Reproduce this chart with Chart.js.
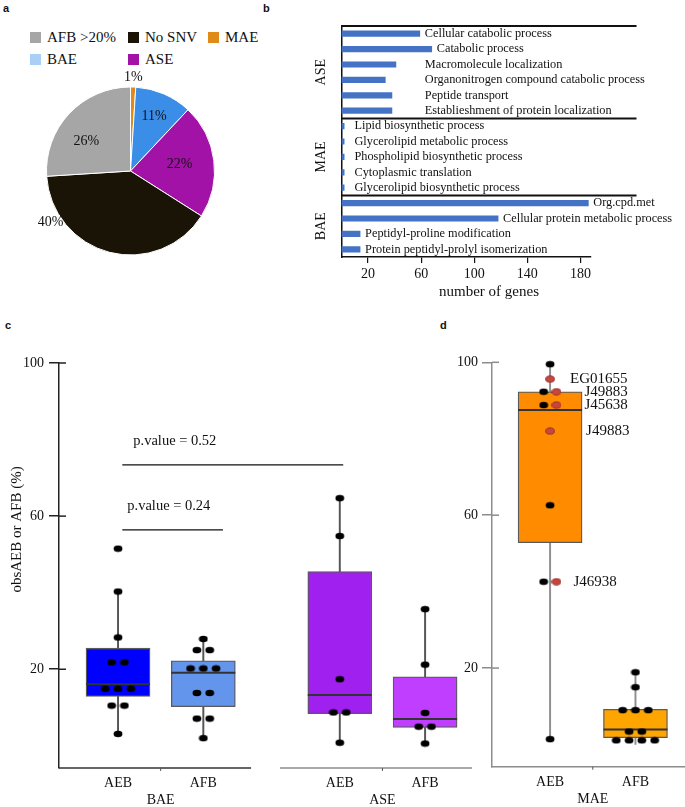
<!DOCTYPE html>
<html>
<head>
<meta charset="utf-8">
<script src="https://cdn.jsdelivr.net/npm/chart.js@4.4.1/dist/chart.umd.min.js"></script>
<style>
  body { margin: 0; width: 685px; height: 807px; position: relative; overflow: hidden; background: #fff;
         font-family: 'Liberation Serif', 'Times New Roman', serif; color: #111; }
  canvas, .tag, .legend { position: absolute; }
  .tag { font: bold 11px 'Liberation Sans', Arial, sans-serif; }
  .legend { left: 30px; top: 30px; display: grid; grid-template-columns: 98px 80px auto; row-gap: 7px;
            font-size: 15px; line-height: 15px; }
  .legend span { display: flex; align-items: center; white-space: nowrap; }
  .legend i { width: 11px; height: 11px; margin-right: 6px; display: inline-block; }
</style>
</head>
<body>
<div class="tag" style="left:3px;top:2px">a</div>
<div class="tag" style="left:263px;top:2px">b</div>
<div class="tag" style="left:5px;top:319px">c</div>
<div class="tag" style="left:440px;top:319px">d</div>
<div class="legend" id="pieLegend"></div>
<canvas id="pieChart" width="262" height="300" style="left:0;top:0"></canvas>
<canvas id="goChart" width="423" height="310" style="left:262px;top:0"></canvas>
<canvas id="boxC" width="480" height="477" style="left:0;top:330px"></canvas>
<canvas id="boxD" width="240" height="477" style="left:445px;top:330px"></canvas>
<script>
// ---- a: pie ----
const pieLabels = ['MAE', 'BAE', 'ASE', 'No SNV', 'AFB >20%']
const pieValues = [1, 11, 22, 40, 26]
const pieColors = ['#e08a17', '#3a8ee8', '#a212a6', '#1a1406', '#a6a6a6']
const legendOrder = ['AFB >20%', 'No SNV', 'MAE', 'BAE', 'ASE']
const legendColors = ['#a6a6a6', '#1a1406', '#e08a17', '#a9cff6', '#a212a6']

// ---- b: GO terms ----
const goGroups = ['ASE', 'MAE', 'BAE']
const goGroupSizes = [6, 5, 4]
const goTerms = [
  'Cellular catabolic process', 'Catabolic process', 'Macromolecule localization',
  'Organonitrogen compound catabolic process', 'Peptide transport', 'Establieshment of protein localization',
  'Lipid biosynthetic process', 'Glycerolipid metabolic process', 'Phospholipid biosynthetic process',
  'Cytoplasmic translation', 'Glycerolipid biosynthetic process',
  'Org.cpd.met', 'Cellular protein metabolic process', 'Peptidyl-proline modification',
  'Protein peptidyl-prolyl isomerization'
]
const goCounts = [59, 68, 41, 33, 38, 38, 2, 2, 2, 2, 2, 186, 118, 14, 14]
const goTicks = [20, 60, 100, 140, 180]

// ---- c: BAE / ASE boxes ----
const cGroups = ['BAE', 'ASE']
const cBoxes = ['AEB', 'AFB', 'AEB', 'AFB']
// [lower whisker, Q1, median, Q3, upper whisker]
const cStats = [
  [3.1, 12.9, 16.1, 25.5, 40.3],
  [2.0, 10.2, 19.1, 22.2, 27.9],
  [0.8, 8.4, 13.3, 45.5, 64.7],
  [0.6, 4.8, 7.0, 18.0, 35.7]
]
const baeAeb = [51.5, 40.3, 28.3, 21.8, 21.8, 14.9, 14.9, 14.9, 10.5, 10.5, 3.1]
const baeAfb = [27.9, 25.0, 25.0, 20.2, 20.2, 20.2, 13.8, 13.8, 7.1, 7.1, 2.0]
const aseAeb = [64.7, 54.8, 17.4, 8.7, 8.7, 0.8]
const aseAfb = [35.7, 21.2, 8.6, 5.0, 5.0, 0.6]
const pTexts = ['p.value = 0.52', 'p.value = 0.24']
const pLevels = [73.4, 56.4]
const yTicks = [20, 60, 100]

// ---- d: MAE boxes ----
const dGroup = 'MAE'
const dBoxes = ['AEB', 'AFB']
const dStats = [
  [1.4, 52.8, 87.5, 92.3, 99.5],
  [0.0, 1.8, 3.9, 9.2, 18.9]
]
const maeAebBlack = [99.5, 92.3, 88.8, 62.6, 42.6, 1.4]
const maeAebRed = [95.6, 92.3, 88.8, 82.0, 42.6]
const redNames = ['EG01655', 'J49883', 'J45638', 'J49883', 'J46938']
const maeAfb = [18.9, 15.0, 9.0, 9.0, 9.0, 3.4, 3.4, 1.1, 1.1, 1.1, 1.1]

// layout bits (not data)
const cSlots = [1, 2, 3.6, 4.6]
const dSlots = [1, 2]
const dotStep = 0.15
const serif = "'Liberation Serif', 'Times New Roman', serif"

Chart.defaults.font.family = serif
Chart.defaults.color = '#111'
Chart.defaults.animation = false
Chart.defaults.plugins.legend.display = false
Chart.defaults.plugins.tooltip.enabled = false

function line(ctx, x0, y0, x1, y1){
  ctx.beginPath()
  ctx.moveTo(x0, y0)
  ctx.lineTo(x1, y1)
  ctx.stroke()
}

// ---------- a ----------
const legendBox = document.getElementById('pieLegend')
legendOrder.forEach((name, i) => {
  const item = document.createElement('span')
  item.innerHTML = '<i style="background:' + legendColors[i] + '"></i>' + name
  legendBox.append(item)
})

const pctRadius = [1.11, 0.71, 0.59, 1.13, 0.635]
const pctShift = [0, 0, 0, 43, -9]
const pieText = {
  id: 'pieText',
  afterDatasetsDraw(chart){
    const ctx = chart.ctx
    ctx.save()
    ctx.font = '14px ' + serif
    ctx.fillStyle = '#111'
    ctx.textAlign = 'center'
    ctx.textBaseline = 'middle'
    chart.getDatasetMeta(0).data.forEach((arc, i) => {
      const a = (arc.startAngle + arc.endAngle) / 2 + pctShift[i] * Math.PI / 180
      const r = arc.outerRadius * pctRadius[i]
      ctx.fillText(pieValues[i] + '%', arc.x + r * Math.cos(a), arc.y + r * Math.sin(a))
    })
    ctx.restore()
  }
}

new Chart('pieChart', {
  type: 'pie',
  data: {
    labels: pieLabels,
    datasets: [{ data: pieValues, backgroundColor: pieColors, borderColor: '#fff', borderWidth: 1 }]
  },
  options: {
    responsive: false,
    layout: { padding: { left: 46, right: 47, top: 86.5, bottom: 44.5 } }
  },
  plugins: [pieText]
})

// ---------- b ----------
const labelFloor = [59, 6, 0]
const goGroupOf = []
goGroupSizes.forEach((n, g) => { for (let k = 0; k < n; k++) goGroupOf.push(g) })

const goDecor = {
  id: 'goDecor',
  afterDraw(chart){
    const { ctx, chartArea: area, scales: { x, y } } = chart
    const lineEnd = area.left + 295
    ctx.save()
    ctx.strokeStyle = '#111'
    ctx.lineWidth = 2
    line(ctx, area.left, area.top, lineEnd, area.top)
    let start = 0
    goGroupSizes.forEach((n, g) => {
      const first = y.getPixelForValue(start)
      const last = y.getPixelForValue(start + n - 1)
      if (g > 0) {
        const sep = (first + y.getPixelForValue(start - 1)) / 2
        line(ctx, area.left, sep, lineEnd, sep)
      }
      ctx.save()
      ctx.translate(area.left - 20.5, (first + last) / 2)
      ctx.rotate(-Math.PI / 2)
      ctx.font = '14px ' + serif
      ctx.fillStyle = '#111'
      ctx.textAlign = 'center'
      ctx.textBaseline = 'middle'
      ctx.fillText(goGroups[g], 0, 0)
      ctx.restore()
      start += n
    })
    ctx.font = '12.3px ' + serif
    ctx.fillStyle = '#111'
    ctx.textBaseline = 'middle'
    ctx.textAlign = 'left'
    goTerms.forEach((t, i) => {
      const v = Math.max(goCounts[i], labelFloor[goGroupOf[i]])
      ctx.fillText(t, x.getPixelForValue(v) + 5, y.getPixelForValue(i))
    })
    ctx.font = '15px ' + serif
    ctx.textAlign = 'center'
    ctx.fillText('number of genes', (area.left + lineEnd) / 2, area.bottom + 35)
    ctx.restore()
  }
}

new Chart('goChart', {
  type: 'bar',
  data: {
    labels: goTerms,
    datasets: [{ data: goCounts, backgroundColor: '#4472c4', barThickness: 5.5 }]
  },
  options: {
    responsive: false,
    indexAxis: 'y',
    layout: { padding: { top: 26, right: 94 } },
    scales: {
      x: {
        min: 0, max: 188,
        afterBuildTicks: s => { s.ticks = goTicks.map(v => ({ value: v })) },
        grid: { display: true, drawOnChartArea: false, tickLength: 6, color: '#111', lineWidth: 1.2 },
        border: { color: '#111', width: 1.5 },
        ticks: { padding: 3, font: { size: 14 }, color: '#111' },
        afterFit: s => { s.height = 53 }
      },
      y: {
        grid: { display: false },
        ticks: { display: false },
        border: { color: '#111', width: 1.5 },
        afterFit: s => { s.width = 79.5 }
      }
    }
  },
  plugins: [goDecor]
})

// ---------- box plots (c, d) ----------
function makeDot(fill, stroke){
  const c = document.createElement('canvas')
  c.width = 10
  c.height = 8
  const g = c.getContext('2d')
  g.beginPath()
  g.ellipse(5, 4, 4.4, 3.2, 0, 0, Math.PI * 2)
  g.fillStyle = fill
  g.fill()
  if (stroke) {
    g.strokeStyle = stroke
    g.lineWidth = 0.8
    g.stroke()
  }
  return c
}
const blackDot = makeDot('#000')
const redDot = makeDot('#c8463e', '#8e2c25')

// equal values sit side by side, like a dot plot
function spread(lists, x){
  const out = lists.map(vals => vals.map(() => null))
  const byVal = {}
  lists.forEach((vals, g) => vals.forEach((v, i) => {
    if (!byVal[v]) byVal[v] = []
    byVal[v].push({ g, i, v })
  }))
  Object.values(byVal).forEach(list => list.forEach((p, k) => {
    out[p.g][p.i] = { x: x + (k - (list.length - 1) / 2) * dotStep, y: p.v }
  }))
  return out
}

function boxSets(slots, stats, colors, whisker, dots){
  return [
    { type: 'bar', data: slots.map((x, i) => ({ x, y: [stats[i][0], stats[i][4]] })),
      backgroundColor: whisker, barThickness: 1.3, grouped: false, order: 4 },
    { type: 'bar', data: slots.map((x, i) => ({ x, y: [stats[i][1], stats[i][3]] })),
      backgroundColor: colors, borderColor: '#5a5a5a', borderWidth: 1.3, borderSkipped: false,
      barThickness: 64, grouped: false, order: 3 },
    { type: 'scatter', data: slots.map((x, i) => ({ x, y: stats[i][2] })),
      pointStyle: 'line', pointRadius: 32, borderColor: '#333', borderWidth: 2, order: 2 }
  ].concat(dots)
}

function yScale(color, pad, width){
  return {
    min: -5.8, max: 100,
    afterBuildTicks: s => { s.ticks = yTicks.map(v => ({ value: v })) },
    ticks: { padding: pad, font: { size: 14 }, color: '#111' },
    grid: { display: true, drawOnChartArea: false, tickLength: 10, color: color, lineWidth: 1.5 },
    border: { color: color, width: 1.5 },
    afterFit: s => { s.width = width }
  }
}

function xScale(min, max, vals, texts, height, border){
  return {
    type: 'linear', min, max, offset: false,
    afterBuildTicks: s => { s.ticks = vals.map(v => ({ value: v })) },
    ticks: { autoSkip: false, maxRotation: 0, padding: 7, font: { size: 14 }, color: '#111',
             callback: (v, i) => texts[i] },
    grid: { display: false, drawTicks: false },
    border: border,
    afterFit: s => { s.height = height }
  }
}

const boxDecor = {
  id: 'boxDecor',
  afterDraw(chart, args, opts){
    const { ctx, chartArea: area, scales: { x, y } } = chart
    ctx.save()
    ctx.lineWidth = 1.5
    ctx.strokeStyle = opts.yColor
    y.ticks.forEach(t => {
      const py = y.getPixelForValue(t.value)
      line(ctx, area.left, py, area.left + 7, py)
    })
    const segs = opts.segments || []
    segs.forEach(s => {
      ctx.strokeStyle = s.color
      line(ctx, x.getPixelForValue(s.from), area.bottom, x.getPixelForValue(s.to), area.bottom)
    })
    ctx.lineWidth = 1
    ctx.strokeStyle = '#555'
    const mids = opts.mids || []
    mids.forEach(v => line(ctx, x.getPixelForValue(v), area.bottom, x.getPixelForValue(v), area.bottom + 3))

    ctx.fillStyle = '#111'
    ctx.strokeStyle = '#111'
    ctx.lineWidth = 1.3
    ctx.textBaseline = 'middle'
    ctx.textAlign = 'left'
    ctx.font = '14.5px ' + serif
    const ps = opts.pvalues || []
    ps.forEach(p => {
      const x0 = x.getPixelForValue(p.from)
      const py = y.getPixelForValue(p.level)
      line(ctx, x0, py, x.getPixelForValue(p.to), py)
      ctx.fillText(p.text, x0 + p.dx, py - 24)
    })
    ctx.font = '15px ' + serif
    const labs = opts.labels || []
    labs.forEach(l => ctx.fillText(l.text, x.getPixelForValue(l.x) + l.dx, y.getPixelForValue(l.y)))
    if (opts.yTitle) {
      ctx.translate(area.left - 42, (area.top + area.bottom) / 2 - 36)
      ctx.rotate(-Math.PI / 2)
      ctx.textAlign = 'center'
      ctx.fillText(opts.yTitle, 0, 0)
    }
    ctx.restore()
  }
}

// ---------- c ----------
const cDots = [baeAeb, baeAfb, aseAeb, aseAfb].map((vals, i) => spread([vals], cSlots[i])[0])
const cTickVals = []
const cTickText = []
cGroups.forEach((g, k) => {
  cTickVals.push(cSlots[2 * k], (cSlots[2 * k] + cSlots[2 * k + 1]) / 2, cSlots[2 * k + 1])
  cTickText.push(cBoxes[2 * k], ['', g], cBoxes[2 * k + 1])
})

new Chart('boxC', {
  type: 'scatter',
  data: {
    datasets: boxSets(cSlots, cStats, ['#0000ff', '#6495ed', '#a020f0', '#bf3eff'], '#555', [
      { type: 'scatter', data: cDots.flat(), pointStyle: blackDot, clip: false, order: 1 }
    ])
  },
  options: {
    responsive: false,
    layout: { autoPadding: false, padding: { top: 33, right: 8 } },
    scales: {
      x: xScale(0.308, 5.15, cTickVals, cTickText, 39, { display: false }),
      y: yScale('#222', 5, 59)
    },
    plugins: {
      boxDecor: {
        yColor: '#222',
        segments: [{ from: 0.308, to: 2.56, color: '#333' }, { from: 2.9, to: 5.15, color: '#8c8c8c' }],
        mids: [1.5, 4.1],
        pvalues: [
          { from: 1.05, to: 3.64, level: pLevels[0], text: pTexts[0], dx: 11 },
          { from: 1.05, to: 2.23, level: pLevels[1], text: pTexts[1], dx: 5 }
        ],
        yTitle: 'obsAEB or AFB (%)'
      }
    }
  },
  plugins: [boxDecor]
})

// ---------- d ----------
const aebDots = spread([maeAebBlack, maeAebRed], dSlots[0])
const afbDots = spread([maeAfb], dSlots[1])[0]
const redDx = [20, 28, 28, 36, 17]

new Chart('boxD', {
  type: 'scatter',
  data: {
    datasets: boxSets(dSlots, dStats, ['#ff8c00', '#ffa500'], '#8f8f8f', [
      { type: 'scatter', data: aebDots[0].concat(afbDots), pointStyle: blackDot, clip: false, order: 1 },
      { type: 'scatter', data: aebDots[1], pointStyle: redDot, clip: false, order: 0 }
    ])
  },
  options: {
    responsive: false,
    layout: { autoPadding: false, padding: { top: 32.3, right: 0 } },
    scales: {
      x: xScale(0.32, 2.58, [1, 1.5, 2], [dBoxes[0], ['', dGroup], dBoxes[1]], 40.3,
                { display: true, color: '#8c8c8c', width: 1.5 }),
      y: yScale('#8c8c8c', 4, 47)
    },
    plugins: {
      boxDecor: {
        yColor: '#8c8c8c',
        mids: [1.5],
        labels: aebDots[1].map((p, i) => ({ x: p.x, y: p.y, text: redNames[i], dx: redDx[i] }))
      }
    }
  },
  plugins: [boxDecor]
})
</script>
</body>
</html>
